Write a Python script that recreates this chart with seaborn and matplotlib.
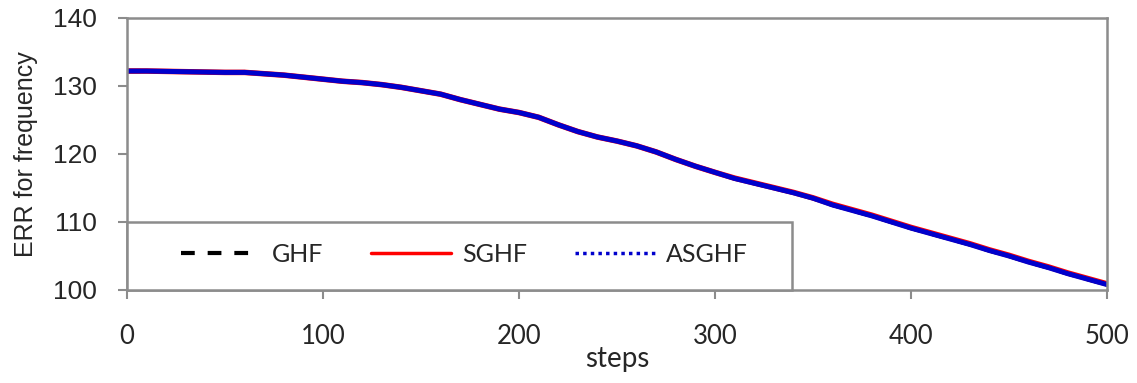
import numpy as np
import pandas as pd
import matplotlib
matplotlib.use("Agg")
import matplotlib.pyplot as plt
from matplotlib.lines import Line2D
from matplotlib.patches import Rectangle
import seaborn as sns

steps = list(range(0, 501, 10))
ghf = [132.2, 132.2, 132.15, 132.1, 132.05, 132.0, 132.0, 131.8, 131.6, 131.3,
       131.0, 130.7, 130.5, 130.2, 129.8, 129.3, 128.8, 128.0, 127.3, 126.6,
       126.1, 125.4, 124.3, 123.3, 122.5, 121.9, 121.2, 120.3, 119.2, 118.2,
       117.3, 116.4, 115.7, 115.0, 114.3, 113.5, 112.5, 111.7, 110.9, 110.0,
       109.1, 108.3, 107.5, 106.7, 105.8, 105.0, 104.1, 103.3, 102.4, 101.6,
       100.8]
sghf = [132.2, 132.2, 132.15, 132.1, 132.05, 132.0, 132.0, 131.8, 131.6, 131.3,
        131.0, 130.7, 130.5, 130.2, 129.8, 129.3, 128.8, 128.0, 127.3, 126.6,
        126.1, 125.4, 124.3, 123.3, 122.5, 121.9, 121.2, 120.3, 119.2, 118.2,
        117.3, 116.45, 115.75, 115.05, 114.35, 113.55, 112.6, 111.8, 111.0, 110.1,
        109.2, 108.4, 107.6, 106.8, 105.9, 105.1, 104.2, 103.4, 102.5, 101.7,
        100.9]
asghf = [132.2, 132.2, 132.15, 132.1, 132.05, 132.0, 132.0, 131.8, 131.6, 131.3,
         131.0, 130.7, 130.5, 130.2, 129.8, 129.3, 128.8, 128.0, 127.3, 126.6,
         126.1, 125.4, 124.3, 123.3, 122.5, 121.9, 121.2, 120.3, 119.2, 118.2,
         117.3, 116.4, 115.7, 115.0, 114.3, 113.5, 112.5, 111.7, 110.9, 110.0,
         109.1, 108.3, 107.5, 106.7, 105.8, 105.0, 104.1, 103.3, 102.4, 101.6,
         100.8]
labels = ["GHF", "SGHF", "ASGHF"]
x_ticks = [0, 100, 200, 300, 400, 500]
y_ticks = [100, 110, 120, 130, 140]

sns.set_style("white")
plt.rcParams['font.family'] = ['Lato', 'DejaVu Sans']

fig = plt.figure(figsize=(11.37, 3.83), dpi=100)
ax = fig.add_axes([127/1137, 1-290/383, (1107-127)/1137, (290-18)/383])

grey = "#8c8c8c"
sns.lineplot(x=steps, y=ghf, ax=ax, color="black", linewidth=3.0, linestyle=(0, (3.3, 3.1)))
sns.lineplot(x=steps, y=sghf, ax=ax, color="#ff0000", linewidth=4.0)
sns.lineplot(x=steps, y=asghf, ax=ax, color="#0000cc", linewidth=3.6)

ax.set_xlim(0, 500)
ax.set_ylim(100, 140)
ax.set_xticks(x_ticks)
ax.set_yticks(y_ticks)
ax.set_xticklabels([str(v) for v in x_ticks], fontsize=18.5, family=['Lato'])
ax.set_yticklabels([str(v) for v in y_ticks], fontsize=19, family=['Liberation Sans'])
ax.tick_params(axis='x', direction='out', length=6.5, width=1.5, color=grey, pad=18, bottom=True)
ax.tick_params(axis='y', direction='out', length=6.5, width=1.5, color=grey, pad=15, left=True)
for s in ax.spines.values():
    s.set_color(grey)
    s.set_linewidth(1.8)

ax.set_xlabel("steps", fontsize=20, family=['Lato'], labelpad=-2)
ax.set_ylabel("ERR for frequency", fontsize=18, family=['Liberation Sans'], labelpad=11)

# legend frame (Excel-style box anchored at lower-left corner of plot area)
frame = Rectangle((0, 0), 0.6786, 0.25, transform=ax.transAxes, facecolor="white",
                  edgecolor=grey, linewidth=1.8, zorder=4.5, clip_on=False)
ax.add_patch(frame)

handles = [
    Line2D([], [], color="black", linewidth=3.0, linestyle=(0, (3.3, 3.1))),
    Line2D([], [], color="#ff0000", linewidth=2.5),
    Line2D([], [], color="#0000cc", linewidth=2.5, linestyle=(0, (1, 1.2))),
]
leg = ax.legend(handles, labels, loc="center", bbox_to_anchor=(0.3444, 0.13),
                ncol=3, frameon=False, borderaxespad=0, borderpad=0,
                handlelength=3.2, handletextpad=0.45, columnspacing=1.9,
                prop={'family': 'Lato', 'size': 18})
leg.set_zorder(5)

fig.savefig("out.png", dpi=100)
